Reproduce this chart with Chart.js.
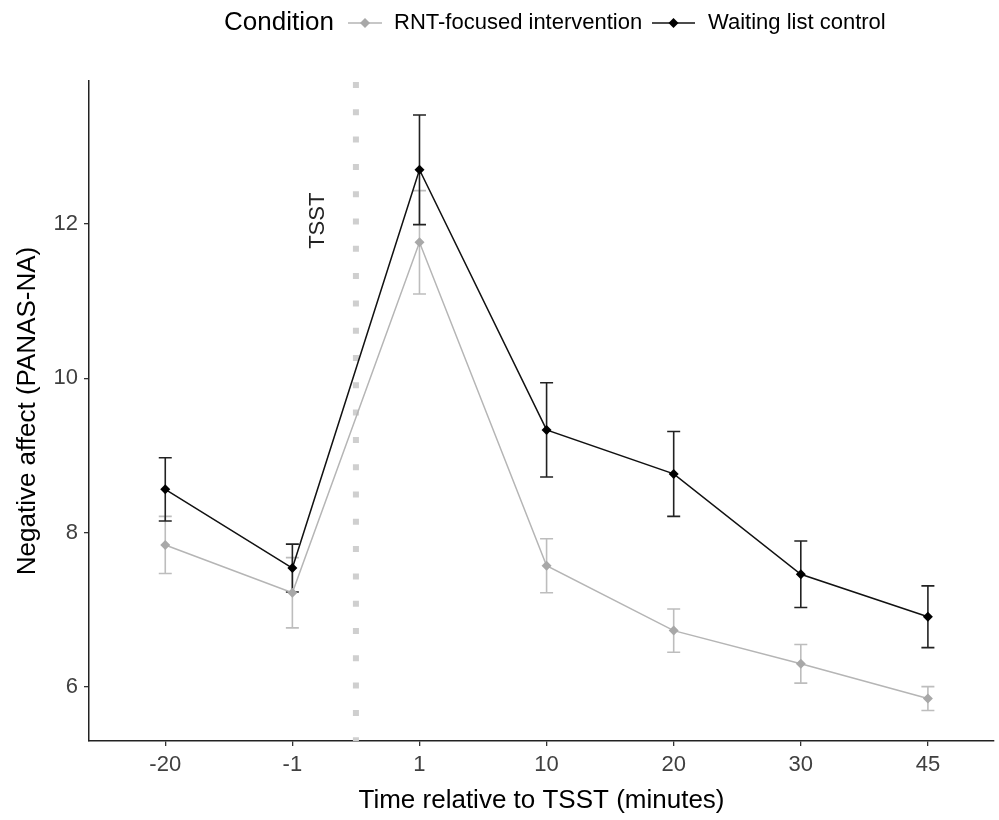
<!DOCTYPE html>
<html>
<head>
<meta charset="utf-8">
<script src="https://cdn.jsdelivr.net/npm/chart.js@4"></script>
<style>
  body { margin: 0; background: #fff; }
  #grafico { display: block; }
</style>
</head>
<body>
<canvas id="grafico" width="999" height="820"></canvas>
<script>
// Dados
const tempos = ['-20', '-1', '1', '10', '20', '30', '45'];
const posicoes = [1, 2, 3, 4, 5, 6, 7];

const rntMedia = [7.84, 7.22, 11.76, 7.57, 6.73, 6.30, 5.85];
const rntErro = [0.37, 0.455, 0.67, 0.35, 0.28, 0.25, 0.155];

const controleMedia = [8.56, 7.54, 12.70, 9.33, 8.76, 7.46, 6.91];
const controleErro = [0.41, 0.31, 0.71, 0.61, 0.55, 0.43, 0.40];

const yTicks = [6, 8, 10, 12];
const posicaoTSST = 2.5; // entre -1 e 1

const fonte = '"Liberation Sans", Arial, sans-serif';
const corCinza = '#b5b5b5';
const corPreta = '#111111';

// Desenha as barras de erro e a linha pontilhada do TSST
const pluginExtras = {
    id: 'extras',
    beforeDatasetsDraw(chart) {
        const ctx = chart.ctx;
        const x = chart.scales.x;
        const y = chart.scales.y;
        const area = chart.chartArea;

        // linha vertical pontilhada
        ctx.save();
        ctx.strokeStyle = '#cfcfcf';
        ctx.lineWidth = 6;
        ctx.setLineDash([6, 21.3]);
        const px = x.getPixelForValue(posicaoTSST);
        ctx.beginPath();
        ctx.moveTo(px, area.top + 1);
        ctx.lineTo(px, area.bottom);
        ctx.stroke();
        ctx.restore();

        // texto TSST
        ctx.save();
        ctx.translate(x.getPixelForValue(2.2), y.getPixelForValue(12.04));
        ctx.rotate(-Math.PI / 2);
        ctx.fillStyle = '#222';
        ctx.font = '22px ' + fonte;
        ctx.textAlign = 'center';
        ctx.textBaseline = 'middle';
        ctx.fillText('TSST', 0, 0);
        ctx.restore();

        // barras de erro
        const grupos = [
            { media: rntMedia, erro: rntErro, cor: '#bdbdbd' },
            { media: controleMedia, erro: controleErro, cor: '#222222' }
        ];
        grupos.forEach(g => {
            ctx.save();
            ctx.strokeStyle = g.cor;
            ctx.lineWidth = 1.6;
            g.media.forEach((m, i) => {
                const cx = x.getPixelForValue(posicoes[i]);
                const topo = y.getPixelForValue(m + g.erro[i]);
                const base = y.getPixelForValue(m - g.erro[i]);
                ctx.beginPath();
                ctx.moveTo(cx, topo);
                ctx.lineTo(cx, base);
                ctx.moveTo(cx - 6.5, topo);
                ctx.lineTo(cx + 6.5, topo);
                ctx.moveTo(cx - 6.5, base);
                ctx.lineTo(cx + 6.5, base);
                ctx.stroke();
            });
            ctx.restore();
        });
    },
    afterDraw(chart) {
        // legenda no topo, estilo ggplot
        const ctx = chart.ctx;
        ctx.save();
        ctx.textBaseline = 'middle';
        ctx.fillStyle = '#000';
        ctx.font = '26px ' + fonte;
        ctx.fillText('Condition', 224, 23);

        const itens = [
            { texto: 'RNT-focused intervention', cor: corCinza, ponto: '#a8a8a8', x0: 348, x1: 382, tx: 394 },
            { texto: 'Waiting list control', cor: corPreta, ponto: '#000', x0: 652, x1: 695, tx: 708 }
        ];
        itens.forEach(it => {
            ctx.strokeStyle = it.cor;
            ctx.lineWidth = 1.5;
            ctx.beginPath();
            ctx.moveTo(it.x0, 23);
            ctx.lineTo(it.x1, 23);
            ctx.stroke();
            const cx = (it.x0 + it.x1) / 2;
            ctx.fillStyle = it.ponto;
            ctx.beginPath();
            ctx.moveTo(cx, 18);
            ctx.lineTo(cx + 5, 23);
            ctx.lineTo(cx, 28);
            ctx.lineTo(cx - 5, 23);
            ctx.closePath();
            ctx.fill();
            ctx.fillStyle = '#000';
            ctx.font = '22px ' + fonte;
            ctx.fillText(it.texto, it.tx, 23);
        });
        ctx.restore();
    }
};

const ctx = document.getElementById('grafico').getContext('2d');
const grafico = new Chart(ctx, {
    type: 'line',
    data: {
        datasets: [
            {
                label: 'Waiting list control',
                data: posicoes.map((p, i) => ({ x: p, y: controleMedia[i] })),
                borderColor: corPreta,
                backgroundColor: '#000',
                borderWidth: 1.5,
                pointStyle: 'rectRot',
                pointRadius: 5,
                pointBorderWidth: 0,
                tension: 0,
                order: 1
            },
            {
                label: 'RNT-focused intervention',
                data: posicoes.map((p, i) => ({ x: p, y: rntMedia[i] })),
                borderColor: corCinza,
                backgroundColor: '#a8a8a8',
                borderWidth: 1.5,
                pointStyle: 'rectRot',
                pointRadius: 5,
                pointBorderWidth: 0,
                tension: 0,
                order: 2
            }
        ]
    },
    options: {
        responsive: false,
        animation: false,
        devicePixelRatio: 1,
        layout: { padding: { top: 81, right: -5, left: 0, bottom: 0 } },
        plugins: {
            legend: { display: false },
            tooltip: { enabled: false }
        },
        scales: {
            x: {
                type: 'linear',
                min: 0.4,
                max: 7.52,
                afterBuildTicks: scale => { scale.ticks = posicoes.map(v => ({ value: v })); },
                afterFit: scale => { scale.height = 79; },
                ticks: {
                    callback: v => tempos[v - 1],
                    color: '#404040',
                    font: { family: fonte, size: 22 },
                    padding: 6,
                    maxRotation: 0
                },
                grid: { drawOnChartArea: false, drawTicks: true, tickLength: 5, color: '#333', lineWidth: 1.3 },
                border: { display: true, color: '#222', width: 1.5 },
                title: {
                    display: true,
                    text: 'Time relative to TSST (minutes)',
                    color: '#000',
                    font: { family: fonte, size: 26 },
                    padding: { top: 0, bottom: 4 }
                }
            },
            y: {
                min: 5.3,
                max: 13.85,
                afterBuildTicks: scale => { scale.ticks = yTicks.map(v => ({ value: v })); },
                afterFit: scale => { scale.width = 89; },
                ticks: {
                    color: '#404040',
                    font: { family: fonte, size: 22 },
                    padding: 6
                },
                grid: { drawOnChartArea: false, drawTicks: true, tickLength: 5, color: '#333', lineWidth: 1.3 },
                border: { display: true, color: '#222', width: 1.5 },
                title: {
                    display: true,
                    text: 'Negative affect (PANAS-NA)',
                    color: '#000',
                    font: { family: fonte, size: 26 },
                    padding: { top: 12, bottom: 0 }
                }
            }
        }
    },
    plugins: [pluginExtras]
});
</script>
</body>
</html>
